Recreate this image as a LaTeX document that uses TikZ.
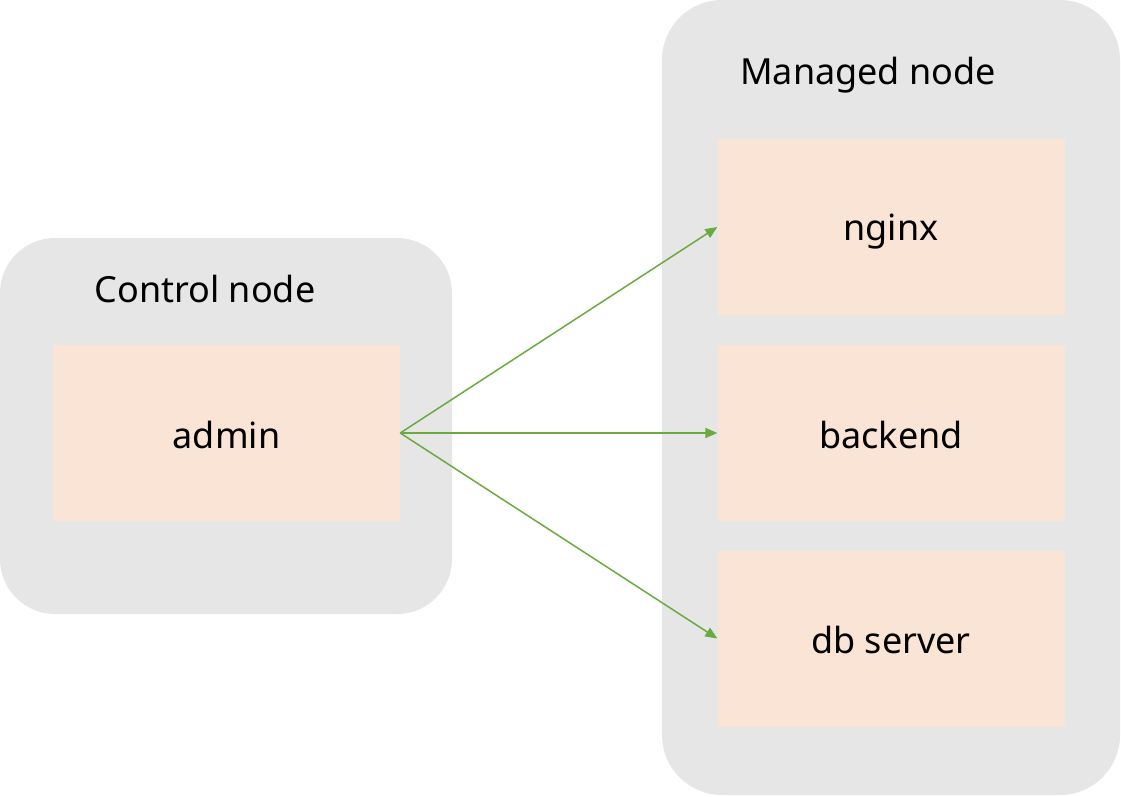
\documentclass[tikz,border=0pt]{standalone}
\usepackage{fontspec}
\setmainfont{Noto Sans}
\usetikzlibrary{arrows.meta}
\definecolor{contgray}{HTML}{E6E6E6}
\definecolor{boxfill}{HTML}{FAE4D6}
\definecolor{arrgreen}{HTML}{6AAA3F}
\begin{document}
\begin{tikzpicture}[x=1pt,y=-1pt,
  container/.style={fill=contgray, draw=none, rounded corners=55pt},
  server/.style={fill=boxfill, draw=none, minimum width=347pt, minimum height=176pt, inner sep=0pt},
  label/.style={font=\fontsize{36}{42}\selectfont, inner sep=0pt},
  link/.style={draw=arrgreen, line width=1.5pt, -{Triangle[length=12pt,width=10pt]}}]
\useasboundingbox (0,0) rectangle (1121,796);
\path[container] (0,238) rectangle (452,614);
\path[container, rounded corners=60pt] (662,0) rectangle (1120,795);
\node[label] (ctitle) at (205,289) {Control node};
\node[label] (mtitle) at (868,75) {Managed node};
\node[server] (admin) at (226.5,433) {};
\node[server] (nginx) at (891,227) {};
\node[server] (backend) at (891,433) {};
\node[server] (db) at (891,638.5) {};
\node[label] (admintext) at (226.5,435) {admin};
\node[label] (nginxtext) at (891,232) {nginx};
\node[label] (backendtext) at (891,435) {backend};
\node[label] (dbtext) at (891,640) {db server};
\draw[link] (admin.east) -- (nginx.west);
\draw[link] (admin.east) -- (backend.west);
\draw[link] (admin.east) -- (db.west);
\end{tikzpicture}
\end{document}
